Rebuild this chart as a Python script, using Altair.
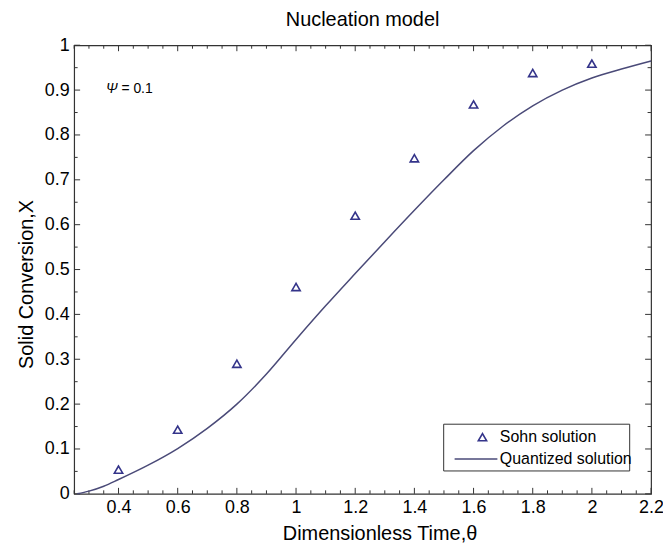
import altair as alt
import pandas as pd
import numpy as np

# ---- data ----
theta_sohn = [0.4, 0.6, 0.8, 1.0, 1.2, 1.4, 1.6, 1.8, 2.0]
conv_sohn = [0.054, 0.143, 0.290, 0.461, 0.620, 0.748, 0.868, 0.938, 0.959]

theta_quant = [0.26, 0.30, 0.35, 0.40, 0.50, 0.60, 0.70, 0.80, 0.90, 1.00, 1.10,
               1.20, 1.30, 1.40, 1.50, 1.60, 1.70, 1.80, 1.90, 2.00, 2.10, 2.20]
conv_quant = [0.000, 0.006, 0.017, 0.032, 0.064, 0.101, 0.146, 0.200, 0.267, 0.344, 0.419,
              0.491, 0.562, 0.632, 0.700, 0.765, 0.820, 0.865, 0.900, 0.927, 0.947, 0.965]

x_major = [0.4, 0.6, 0.8, 1.0, 1.2, 1.4, 1.6, 1.8, 2.0, 2.2]
x_minor = [0.25, 0.3, 0.35, 0.45, 0.5, 0.55, 0.65, 0.7, 0.75, 0.85, 0.9, 0.95,
           1.05, 1.1, 1.15, 1.25, 1.3, 1.35, 1.45, 1.5, 1.55, 1.65, 1.7, 1.75,
           1.85, 1.9, 1.95, 2.05, 2.1, 2.15]
y_major = [0.0, 0.1, 0.2, 0.3, 0.4, 0.5, 0.6, 0.7, 0.8, 0.9, 1.0]
y_minor = [0.05, 0.15, 0.25, 0.35, 0.45, 0.55, 0.65, 0.75, 0.85, 0.95]

W, H = 580, 451
FONT = "Liberation Sans"
LINE_COL = "#4a4a78"
MARK_COL = "#34348a"
FRAME = "#333333"
MAJ, MIN = 6, 3.5

sohn = pd.DataFrame({"t": theta_sohn, "X": conv_sohn})
quant = pd.DataFrame({"t": theta_quant, "X": conv_quant})

xscale = alt.Scale(domain=[0.25, 2.2], nice=False, zero=False)
yscale = alt.Scale(domain=[0, 1], nice=False, zero=False)

xaxis = alt.Axis(values=x_major, format="~g", title="Dimensionless Time,\u03b8",
                 titleX=307, titleY=46, titleAlign="center", titleBaseline="alphabetic",
                 labelFlush=False, labelOverlap=False, grid=False, ticks=False, domain=False)
yaxis = alt.Axis(values=y_major, format="~g", title="Solid Conversion,X",
                 titleAngle=270, titleX=-41.5, titleY=240, titleAlign="center",
                 titleBaseline="alphabetic", labelFlush=False, labelOverlap=False,
                 grid=False, ticks=False, domain=False)

X = lambda f: alt.X(f, type="quantitative", scale=xscale, axis=xaxis)
Y = lambda f: alt.Y(f, type="quantitative", scale=yscale, axis=yaxis)

line = alt.Chart(quant).mark_line(color=LINE_COL, strokeWidth=1.5, interpolate="monotone").encode(
    x=X("t"), y=Y("X"))
pts = alt.Chart(sohn).mark_point(shape="triangle-up", filled=False, color=MARK_COL,
                                 strokeWidth=1.6, size=70, opacity=1).encode(x=X("t"), y=Y("X"))

def xticks(vals, L):
    d = pd.DataFrame({"v": vals})
    b = alt.Chart(d).mark_rule(color=FRAME, strokeWidth=1).encode(
        x=X("v"), y=alt.value(H), y2=alt.value(H - L))
    t = alt.Chart(d).mark_rule(color=FRAME, strokeWidth=1).encode(
        x=X("v"), y=alt.value(0), y2=alt.value(L))
    return [b, t]

def yticks(vals, L):
    d = pd.DataFrame({"v": vals})
    l = alt.Chart(d).mark_rule(color=FRAME, strokeWidth=1).encode(
        y=Y("v"), x=alt.value(0), x2=alt.value(L))
    r = alt.Chart(d).mark_rule(color=FRAME, strokeWidth=1).encode(
        y=Y("v"), x=alt.value(W), x2=alt.value(W - L))
    return [l, r]

ticks = xticks(x_major, MAJ) + xticks(x_minor, MIN) + yticks(y_major, MAJ) + yticks(y_minor, MIN)

one = pd.DataFrame({"a": [0]})
# annotation
psi = alt.Chart(one).mark_text(text="\u03a8", font=FONT, fontSize=14, fontStyle="italic",
                               align="left", baseline="middle", color="black").encode(
    x=alt.value(32), y=alt.value(44))
psi2 = alt.Chart(one).mark_text(text="= 0.1", font=FONT, fontSize=14,
                                align="left", baseline="middle", color="black").encode(
    x=alt.value(47.5), y=alt.value(44))

# legend
leg_box = alt.Chart(one).mark_rect(fill="white", stroke=FRAME, strokeWidth=1).encode(
    x=alt.value(371.5), x2=alt.value(558.5), y=alt.value(381), y2=alt.value(428))
leg_pt = alt.Chart(one).mark_point(shape="triangle-up", filled=False, color=MARK_COL,
                                   strokeWidth=1.6, size=70, opacity=1).encode(
    x=alt.value(410.5), y=alt.value(394))
leg_ln = alt.Chart(one).mark_rule(color=LINE_COL, strokeWidth=1.5).encode(
    x=alt.value(382.5), x2=alt.value(425.5), y=alt.value(416))
leg_t1 = alt.Chart(one).mark_text(text="Sohn solution", font=FONT, fontSize=16, align="left",
                                  baseline="middle", color="black").encode(
    x=alt.value(428), y=alt.value(394))
leg_t2 = alt.Chart(one).mark_text(text="Quantized solution", font=FONT, fontSize=16, align="left",
                                  baseline="middle", color="black").encode(
    x=alt.value(428), y=alt.value(416))

chart = alt.layer(
    *ticks, line, pts, psi, psi2, leg_box, leg_pt, leg_ln, leg_t1, leg_t2
).properties(
    width=W, height=H,
    background="white",
    title=alt.TitleParams("Nucleation model", font=FONT, fontSize=20, fontWeight="normal",
                          color="black", anchor="middle", offset=6),
    autosize=alt.AutoSizeParams(type="none"),
    padding={"left": 66.5, "top": 36, "right": 12, "bottom": 49},
).configure_view(
    stroke=FRAME, strokeWidth=1.2
).configure_axis(
    domain=False, ticks=False, grid=False,
    labelFont=FONT, labelFontSize=18, labelColor="black", labelPadding=5,
    titleFont=FONT, titleFontSize=20, titleFontWeight="normal", titleColor="black",
)

chart.save("out.html", embed_options={"renderer": "svg", "actions": False})
